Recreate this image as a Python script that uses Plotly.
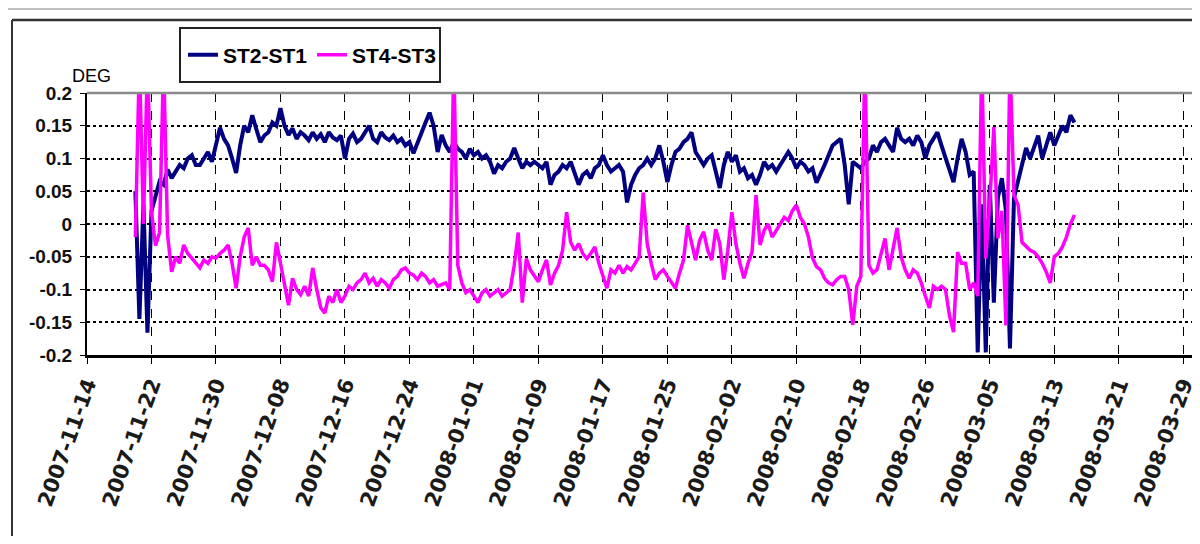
import pandas as pd
import plotly.graph_objects as go

# 12-hourly samples starting 2007-11-20 00:00
start = "2007-11-20 00:00"
n_points = 234
times = pd.date_range(start=start, periods=n_points, freq="12h")

st2_st1 = [
    0.05, -0.145, 0.03, -0.166, 0.02, 0.045, 0.065, 0.06, 0.083, 0.07,
    0.08, 0.09, 0.085, 0.1, 0.105, 0.09, 0.09, 0.1, 0.11, 0.095,
    0.12, 0.147, 0.13, 0.12, 0.1, 0.078, 0.12, 0.15, 0.14, 0.166,
    0.145, 0.125, 0.135, 0.14, 0.155, 0.15, 0.177, 0.15, 0.136, 0.146,
    0.13, 0.14, 0.135, 0.128, 0.14, 0.13, 0.137, 0.125, 0.14, 0.132,
    0.128, 0.135, 0.1, 0.13, 0.138, 0.125, 0.13, 0.14, 0.15, 0.13,
    0.125, 0.14, 0.132, 0.128, 0.135, 0.125, 0.13, 0.12, 0.125, 0.108,
    0.125, 0.14, 0.155, 0.17, 0.15, 0.11, 0.136, 0.12, 0.11, 0.125,
    0.115, 0.11, 0.1, 0.115, 0.105, 0.11, 0.1, 0.105, 0.095, 0.077,
    0.09, 0.085, 0.095, 0.1, 0.116, 0.1, 0.085, 0.095, 0.09, 0.095,
    0.09, 0.085, 0.095, 0.06, 0.075, 0.08, 0.09, 0.085, 0.095, 0.075,
    0.06, 0.075, 0.08, 0.07, 0.085, 0.09, 0.105, 0.09, 0.08, 0.085,
    0.09, 0.08, 0.033, 0.06, 0.075, 0.085, 0.09, 0.1, 0.09, 0.1,
    0.12, 0.095, 0.064, 0.09, 0.11, 0.115, 0.125, 0.13, 0.14, 0.11,
    0.1, 0.09, 0.1, 0.105, 0.08, 0.055, 0.09, 0.11, 0.095, 0.105,
    0.08, 0.085, 0.07, 0.075, 0.06, 0.075, 0.095, 0.085, 0.09, 0.08,
    0.09, 0.1, 0.11, 0.1, 0.085, 0.095, 0.09, 0.08, 0.085, 0.063,
    0.075, 0.09, 0.105, 0.12, 0.125, 0.13, 0.09, 0.03, 0.095, 0.09,
    0.085, 0.095, 0.1, 0.12, 0.11, 0.125, 0.13, 0.12, 0.11, 0.147,
    0.13, 0.125, 0.13, 0.12, 0.135, 0.125, 0.1, 0.12, 0.13, 0.14,
    0.12, 0.1, 0.085, 0.064, 0.1, 0.13, 0.11, 0.075, 0.08, -0.196,
    0.03, -0.196, 0.06, -0.12, 0.04, 0.07, 0.02, -0.19, 0.04, 0.064,
    0.09, 0.116, 0.1, 0.12, 0.135, 0.1, 0.12, 0.14, 0.12, 0.135,
    0.15, 0.14, 0.166, 0.155,
]

st4_st3 = [
    -0.02, 0.25, 0.0, 0.25, 0.018, -0.033, -0.013, 0.25, -0.017, -0.073,
    -0.05, -0.06, -0.032, -0.045, -0.052, -0.06, -0.067, -0.055, -0.06, -0.05,
    -0.052, -0.045, -0.04, -0.032, -0.06, -0.098, -0.05, -0.02, -0.006, -0.063,
    -0.05, -0.063, -0.063, -0.07, -0.088, -0.028, -0.06, -0.09, -0.124, -0.083,
    -0.1, -0.108, -0.095, -0.11, -0.067, -0.1, -0.128, -0.136, -0.11, -0.12,
    -0.1, -0.12, -0.11, -0.095, -0.1, -0.09, -0.085, -0.075, -0.09, -0.083,
    -0.095, -0.085, -0.09, -0.098, -0.085, -0.08, -0.07, -0.067, -0.075, -0.078,
    -0.085, -0.075, -0.08, -0.09, -0.085, -0.095, -0.093, -0.09, -0.1, 0.25,
    -0.063, -0.09, -0.105, -0.1, -0.11, -0.12, -0.105, -0.1, -0.11, -0.105,
    -0.1, -0.11, -0.105, -0.1, -0.063, -0.013, -0.12, -0.053, -0.07, -0.08,
    -0.088, -0.07, -0.055, -0.093, -0.075, -0.063, -0.04, 0.018, -0.028, -0.04,
    -0.03, -0.045, -0.053, -0.045, -0.035, -0.06, -0.078, -0.098, -0.07, -0.075,
    -0.063, -0.075, -0.065, -0.07, -0.06, -0.05, 0.048, -0.03, -0.06, -0.085,
    -0.075, -0.07, -0.08, -0.09, -0.098, -0.075, -0.055, -0.002, -0.03, -0.055,
    -0.025, -0.012, -0.04, -0.055, -0.008, -0.03, -0.085, -0.04, 0.018, -0.03,
    -0.06, -0.083, -0.06, -0.043, 0.044, -0.032, -0.01, 0.0, -0.02, -0.01,
    0.0, 0.01, 0.005, 0.02, 0.029, 0.01, 0.0, -0.02, -0.052, -0.065,
    -0.07, -0.083, -0.09, -0.093, -0.085, -0.08, -0.08, -0.1, -0.154, -0.095,
    -0.08, 0.25, -0.063, -0.075, -0.07, -0.045, -0.022, -0.07, -0.04, -0.006,
    -0.05, -0.07, -0.083, -0.07, -0.075, -0.09, -0.11, -0.128, -0.095, -0.1,
    -0.095, -0.1, -0.14, -0.165, -0.043, -0.06, -0.06, -0.1, -0.09, -0.11,
    0.25, -0.053, 0.033, 0.148, -0.022, 0.02, -0.155, 0.25, 0.044, 0.03,
    -0.028, -0.035, -0.04, -0.043, -0.05, -0.06, -0.073, -0.09, -0.05, -0.045,
    -0.035, -0.02, 0.0, 0.014,
]

series_names = ["ST2-ST1", "ST4-ST3"]
series_colors = ["#000080", "#FF00FF"]

x_range = ["2007-11-14", "2008-03-30 02:00"]
x_tick0 = "2007-11-14"
x_dtick_days = 8

y_tickvals = [0.2, 0.15, 0.1, 0.05, 0, -0.05, -0.1, -0.15, -0.2]
y_ticktext = ["0.2", "0.15", "0.1", "0.05", "0", "-0.05", "-0.1", "-0.15", "-0.2"]
y_unit = "DEG"

# the page body has an 8px margin on every side; keep the figure inside it
OFF = 8
W, H = 1200 - 2 * OFF, 544 - 2 * OFF
L, R, T = 87 - OFF, 0, 93 - OFF
B = H - (355 - OFF)
pw = W - L - R
ph = H - T - B


def px_x(px):  # screen pixel -> paper fraction
    return (px - OFF - L) / pw


def px_y(py):
    return (H - B - (py - OFF)) / ph


fig = go.Figure()
for name, vals, col, w in zip(series_names, [st2_st1, st4_st3], series_colors, [4, 3.5]):
    fig.add_trace(go.Scatter(x=times, y=vals, mode="lines", name=name,
                             line=dict(color=col, width=w)))

narrow = "Liberation Sans Narrow, Arial Narrow, Liberation Sans, Arial, sans-serif"

fig.update_layout(
    width=W, height=H,
    margin=dict(l=L, r=R, t=T, b=B, pad=0, autoexpand=False),
    paper_bgcolor="white", plot_bgcolor="white",
    font=dict(family="Liberation Sans, Arial, sans-serif", color="black"),
    showlegend=True,
    legend=dict(
        orientation="h",
        x=px_x(183), y=px_y(55), xanchor="left", yanchor="middle",
        borderwidth=0, bgcolor="rgba(255,255,255,0)",
        font=dict(family=narrow, size=21, weight="bold", color="black"),
        entrywidth=84, entrywidthmode="pixels",
        itemwidth=30,
    ),
    xaxis=dict(
        type="date", range=x_range, automargin=False,
        tick0=x_tick0, dtick=x_dtick_days * 86400000,
        tickformat="%Y-%m-%d", tickangle=-70,
        ticklabeloverflow="allow",
        tickfont=dict(family="DejaVu Sans, sans-serif", size=21, weight="bold", color="#1a1a1a"),
        showgrid=True, gridcolor="black", griddash="dash", gridwidth=1.3,
        showline=True, linecolor="black", linewidth=2.5,
        ticks="outside", ticklen=6, tickcolor="black", tickwidth=1,
        zeroline=False,
    ),
    yaxis=dict(
        range=[-0.2, 0.2], tickmode="array", automargin=False,
        tickvals=y_tickvals, ticktext=y_ticktext,
        tickfont=dict(family=narrow, size=19, weight="bold", color="#111111"),
        showgrid=True, gridcolor="black", griddash="dot", gridwidth=1.5,
        showline=True, linecolor="black", linewidth=2,
        ticks="outside", ticklen=5, tickcolor="black",
        ticklabelstandoff=4,
        zeroline=False,
    ),
    annotations=[
        dict(text=y_unit, xref="paper", yref="paper", x=px_x(70), y=px_y(76),
             xanchor="left", yanchor="middle", showarrow=False,
             font=dict(family=narrow, size=18, color="black")),
    ],
    shapes=[
        # legend frame
        dict(type="rect", xref="paper", yref="paper", x0=px_x(180), x1=px_x(440),
             y0=px_y(82), y1=px_y(28), line=dict(color="#222222", width=2),
             fillcolor="rgba(0,0,0,0)", layer="below"),
        # top border of the plotting area
        dict(type="line", xref="paper", yref="paper", x0=0, x1=1, y0=1, y1=1,
             line=dict(color="#8a8a8a", width=2.5), layer="above"),
        # outer chart frame
        dict(type="line", xref="paper", yref="paper", x0=px_x(12), x1=px_x(12),
             y0=px_y(20), y1=px_y(536), line=dict(color="#333333", width=2)),
        dict(type="line", xref="paper", yref="paper", x0=px_x(12), x1=1,
             y0=px_y(20), y1=px_y(20), line=dict(color="#333333", width=2.5)),
        dict(type="line", xref="paper", yref="paper", x0=px_x(0), x1=1,
             y0=px_y(9), y1=px_y(9), line=dict(color="#aaaaaa", width=1.5)),
    ],
)

fig.write_html("out.html")
